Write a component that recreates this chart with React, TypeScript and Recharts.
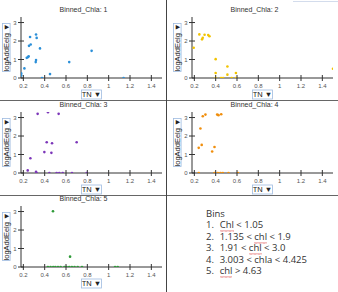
import { Label, Scatter, ScatterChart, XAxis, YAxis } from 'recharts'

const tnTicks = [0.2, 0.4, 0.6, 0.8, 1, 1.2, 1.4]
const eelgTicks = [0, 1, 2, 3]

const bin1TN = [0.18, 0.18, 0.21, 0.232, 0.244, 0.25, 0.253, 0.263, 0.269, 0.316, 0.319, 0.319, 0.325, 0.356, 0.375, 0.45, 0.63, 0.84, 1.14]
const bin1Eelg = [0.25, 0.14, 0.52, 1.09, 1.13, 1.17, 1.74, 2.22, 1.81, 0.86, 0.97, 2.35, 2.17, 1.6, 0, 0.21, 0.86, 1.47, 0]

const bin2TN = [0.194, 0.247, 0.272, 0.279, 0.296, 0.33, 0.342, 0.4, 0.4, 0.4, 0.45, 0.47, 0.51, 0.51, 0.55, 0.59, 0.59, 1.5]
const bin2Eelg = [1.64, 2.36, 2.09, 2.18, 2.34, 2.32, 2.26, 1.02, 0.27, 0, 0, 0, 0.62, 0.18, 0, 0.27, 0, 0.5]

const bin3TN = [0.334, 0.431, 0.531, 0.419, 0.469, 0.7, 0.397, 0.463, 0.266, 0.241, 0.319, 0.325, 0.444, 0.512, 0.537, 0.569, 0.656, 0.794]
const bin3Eelg = [3.2, 3.29, 3.2, 1.66, 1.61, 1.66, 1.13, 1.09, 0.8, 0.14, 0.07, 0, 0, 0, 0, 0, 0, 0]

const bin4TN = [0.279, 0.304, 0.414, 0.426, 0.452, 0.257, 0.241, 0.269, 0.389, 0.367, 0.241, 0.389, 0.42, 0.445, 0.467, 0.52, 0.609]
const bin4Eelg = [3.07, 3.16, 3.16, 3.13, 3.18, 2.41, 1.36, 1.52, 1.41, 1.16, 0, 0, 0, 0, 0, 0, 0]

const bin5TN = [0.478, 0.638, 0.43, 0.455, 0.48, 0.5, 0.525, 0.55, 0.585, 0.605, 0.63, 0.655, 0.68, 0.71, 0.75, 1.06, 1.085]
const bin5Eelg = [3.02, 0.56, 0, 0, 0, 0, 0, 0, 0, 0, 0, 0, 0, 0, 0, 0, 0]

const binTitles = ['Binned_Chla: 1', 'Binned_Chla: 2', 'Binned_Chla: 3', 'Binned_Chla: 4', 'Binned_Chla: 5']
const binColors = ['#2b8fd8', '#f2c300', '#7c36b9', '#f08e0c', '#2e9a38']

const legendRanges = ['Chl < 1.05', '1.135 < chl < 1.9', '1.91 < chl < 3.0', '3.003 < chla < 4.425', 'chl > 4.63']

const bins = [
  [bin1TN, bin1Eelg],
  [bin2TN, bin2Eelg],
  [bin3TN, bin3Eelg],
  [bin4TN, bin4Eelg],
  [bin5TN, bin5Eelg],
].map(([tn, eelg]) => tn.map((v, i) => ({ tn: v, eelg: eelg[i] })))

const CHART_W = 167
const CHART_H = 100
const X_TICK_SIZE = 3
const X_TICK_MARGIN = 2
const Y_TICK_SIZE = 2
const Y_TICK_MARGIN = 2
const FONT = '"Liberation Sans", Arial, sans-serif'

// red squiggle under words the spell checker flagged
const squiggle =
  "url(\"data:image/svg+xml,%3Csvg xmlns='http://www.w3.org/2000/svg' width='4' height='2'%3E%3Cpath d='M0 1.5 L1 0.5 L2 1.5 L3 0.5 L4 1.5' fill='none' stroke='%23d62b2b' stroke-width='0.7'/%3E%3C/svg%3E\")"

// JMP-style ticks cross the axis line
function TNTick({ x, y, payload }: any) {
  const axisY = y - X_TICK_SIZE - X_TICK_MARGIN
  return (
    <g>
      <line x1={x} x2={x} y1={axisY - 3} y2={axisY + 3} stroke="#333" strokeWidth={1} />
      <text x={x} y={axisY + 9.5} textAnchor="middle" fontSize={6} fill="#555" fontFamily={FONT}>
        {String(payload.value)}
      </text>
    </g>
  )
}

function EelgTick({ x, y, payload }: any) {
  const axisX = x + Y_TICK_SIZE + Y_TICK_MARGIN
  return (
    <g>
      <line x1={axisX - 3} x2={axisX + 3} y1={y} y2={y} stroke="#333" strokeWidth={1} />
      <text x={axisX - 4.5} y={y + 2} textAnchor="end" fontSize={6} fill="#555" fontFamily={FONT}>
        {String(payload.value)}
      </text>
    </g>
  )
}

function TNPicker({ viewBox }: any) {
  const cx = viewBox.x + viewBox.width / 2
  const cy = viewBox.y + 16.5
  return (
    <g>
      <rect x={cx - 10} y={cy - 4.5} width={20} height={9} fill="#fff" stroke="#9fbbe0" strokeWidth={0.8} />
      <text x={cx} y={cy + 2.6} textAnchor="middle" fontSize={7.5} fill="#222" fontFamily={FONT}>
        TN ▼
      </text>
    </g>
  )
}

function EelgPicker({ viewBox }: any) {
  const cx = viewBox.x + 6.3
  const cy = viewBox.y + viewBox.height / 2
  return (
    <g>
      <rect x={cx - 3.8} y={cy - 24} width={7.6} height={48} fill="#fff" stroke="#9fbbe0" strokeWidth={0.8} />
      <text
        x={cx}
        y={cy}
        dy={2.6}
        transform={`rotate(-90 ${cx} ${cy})`}
        textAnchor="middle"
        fontSize={7.5}
        fill="#222"
        fontFamily={FONT}
      >
        logAddEelg ▼
      </text>
    </g>
  )
}

function BinPanel({ index, left, top }: { index: number; left: number; top: number }) {
  const color = binColors[index]
  return (
    <div style={{ position: 'absolute', left, top, width: CHART_W, height: CHART_H }}>
      <div
        style={{
          position: 'absolute',
          left: 0,
          top: 5.5,
          width: CHART_W,
          textAlign: 'center',
          fontSize: 7,
          lineHeight: '8px',
          color: '#333',
          fontFamily: FONT,
        }}
      >
        {binTitles[index]}
      </div>
      <ScatterChart width={CHART_W} height={CHART_H} margin={{ top: 17, right: 5, bottom: 0, left: 0 }}>
        <XAxis
          type="number"
          dataKey="tn"
          domain={[0.178, 1.5]}
          ticks={tnTicks}
          interval={0}
          allowDataOverflow
          height={22}
          tickSize={X_TICK_SIZE}
          tickMargin={X_TICK_MARGIN}
          tickLine={false}
          axisLine={{ stroke: '#333' }}
          tick={TNTick}
        >
          <Label content={TNPicker} />
        </XAxis>
        <YAxis
          type="number"
          dataKey="eelg"
          domain={[0, 3.3]}
          ticks={eelgTicks}
          interval={0}
          allowDataOverflow
          width={21}
          tickSize={Y_TICK_SIZE}
          tickMargin={Y_TICK_MARGIN}
          tickLine={false}
          axisLine={{ stroke: '#333' }}
          tick={EelgTick}
        >
          <Label content={EelgPicker} />
        </YAxis>
        <Scatter
          data={bins[index]}
          isAnimationActive={false}
          shape={(p: any) => <circle cx={p.cx} cy={p.cy} r={1.3} fill={color} />}
        />
      </ScatterChart>
    </div>
  )
}

function RangeText({ text }: { text: string }) {
  const parts = text.split(/(\b[Cc]hl\b)/)
  return (
    <>
      {parts.map((part, i) =>
        /^[Cc]hl$/.test(part) ? (
          <span
            key={i}
            style={{
              backgroundImage: squiggle,
              backgroundRepeat: 'repeat-x',
              backgroundPosition: '0 100%',
              backgroundSize: '4px 2px',
              paddingBottom: 1,
            }}
          >
            {part}
          </span>
        ) : (
          <span key={i}>{part}</span>
        ),
      )}
    </>
  )
}

export default function App() {
  return (
    <div
      style={{
        position: 'absolute',
        left: 0,
        top: 0,
        width: 338,
        height: 292,
        background: '#fff',
        overflow: 'hidden',
      }}
    >
      <BinPanel index={0} left={0} top={0} />
      <BinPanel index={1} left={171} top={0} />
      <BinPanel index={2} left={0} top={95} />
      <BinPanel index={3} left={171} top={95} />
      <BinPanel index={4} left={0} top={189} />

      {/* panel frame */}
      <div style={{ position: 'absolute', left: 0, top: 100, width: 338, height: 1, background: '#666' }} />
      <div style={{ position: 'absolute', left: 0, top: 195, width: 338, height: 1, background: '#666' }} />
      <div style={{ position: 'absolute', left: 166, top: 0, width: 1, height: 292, background: '#444' }} />
      <div style={{ position: 'absolute', left: 293, top: 1, width: 45, height: 1, background: '#d3dcec' }} />

      <div
        style={{
          position: 'absolute',
          left: 206,
          top: 207.5,
          fontFamily: '"Open Sans", sans-serif',
          fontSize: 9.5,
          lineHeight: '11.5px',
          color: '#333',
          whiteSpace: 'nowrap',
        }}
      >
        <div>Bins</div>
        {legendRanges.map((range, i) => (
          <div key={i}>
            <span style={{ display: 'inline-block', width: 13.7 }}>{i + 1}.</span>
            <RangeText text={range} />
          </div>
        ))}
      </div>
    </div>
  )
}
